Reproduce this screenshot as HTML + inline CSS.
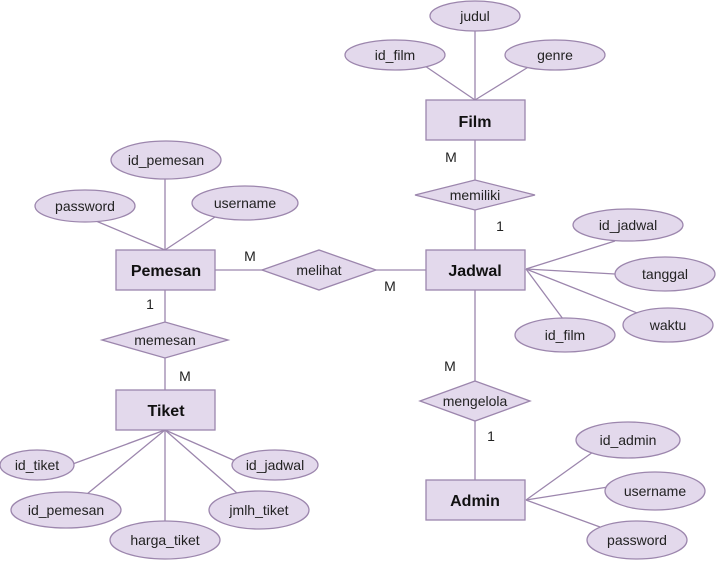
<!DOCTYPE html>
<html><head><style>html,body{margin:0;padding:0;background:#fff}svg{display:block}</style></head>
<body>
<svg width="716" height="561" viewBox="0 0 716 561" xmlns="http://www.w3.org/2000/svg" font-family="Liberation Sans, Arial, sans-serif">
<g stroke="#9c86ad" stroke-width="1.3" fill="none">
<!-- Film -->
<line x1="475" y1="31" x2="475" y2="100"/>
<line x1="425" y1="66" x2="475" y2="100"/>
<line x1="530" y1="66" x2="475" y2="100"/>
<line x1="475" y1="140" x2="475" y2="250"/>
<!-- Jadwal -->
<line x1="526" y1="269" x2="615" y2="241"/>
<line x1="526" y1="269" x2="615" y2="274"/>
<line x1="526" y1="269" x2="637" y2="313"/>
<line x1="526" y1="269" x2="563" y2="319"/>
<line x1="475" y1="290" x2="475" y2="480"/>
<!-- melihat -->
<line x1="215" y1="270" x2="426" y2="270"/>
<!-- Pemesan -->
<line x1="165" y1="179" x2="165" y2="250"/>
<line x1="96" y1="221" x2="165" y2="250"/>
<line x1="215" y1="217" x2="165" y2="250"/>
<line x1="165" y1="290" x2="165" y2="390"/>
<!-- Tiket -->
<line x1="165" y1="430" x2="70" y2="465"/>
<line x1="165" y1="430" x2="240" y2="463"/>
<line x1="165" y1="430" x2="87" y2="494"/>
<line x1="165" y1="430" x2="238" y2="494"/>
<line x1="165" y1="430" x2="165" y2="522"/>
<!-- Admin -->
<line x1="526" y1="500" x2="593" y2="452"/>
<line x1="526" y1="500" x2="608" y2="487"/>
<line x1="526" y1="500" x2="600" y2="527"/>
</g>
<g fill="#e3d9ec" stroke="#9c86ad" stroke-width="1.3">
<rect x="426" y="100" width="99" height="40"/>
<rect x="426" y="250" width="99" height="40"/>
<rect x="116" y="250" width="99" height="40"/>
<rect x="116" y="390" width="99" height="40"/>
<rect x="426" y="480" width="99" height="40"/>
<polygon points="415,195 475,180 535,195 475,210"/>
<polygon points="262,270 319,250 376,270 319,290"/>
<polygon points="102,340 165,322 228,340 165,358"/>
<polygon points="420,401 475,381 530,401 475,421"/>
<ellipse cx="475" cy="16" rx="45" ry="15"/>
<ellipse cx="395" cy="55" rx="50" ry="15"/>
<ellipse cx="555" cy="55" rx="50" ry="15"/>
<ellipse cx="628" cy="225" rx="55" ry="16"/>
<ellipse cx="665" cy="274" rx="50" ry="17"/>
<ellipse cx="668" cy="325" rx="45" ry="17"/>
<ellipse cx="565" cy="335" rx="50" ry="17"/>
<ellipse cx="166" cy="160" rx="55" ry="19"/>
<ellipse cx="85" cy="206" rx="50" ry="16"/>
<ellipse cx="245" cy="203" rx="53" ry="17"/>
<ellipse cx="37" cy="465" rx="37" ry="15"/>
<ellipse cx="275" cy="465" rx="43" ry="15"/>
<ellipse cx="66" cy="510" rx="55" ry="18"/>
<ellipse cx="259" cy="510" rx="50" ry="19"/>
<ellipse cx="165" cy="540" rx="55" ry="19"/>
<ellipse cx="628" cy="440" rx="52" ry="18"/>
<ellipse cx="655" cy="491" rx="50" ry="19"/>
<ellipse cx="637" cy="540" rx="50" ry="19"/>
</g>
<g fill="#111" font-size="16" font-weight="bold" text-anchor="middle">
<text x="475" y="127">Film</text>
<text x="475" y="276">Jadwal</text>
<text x="166" y="276">Pemesan</text>
<text x="166" y="416">Tiket</text>
<text x="475" y="506">Admin</text>
</g>
<g fill="#222" font-size="14" text-anchor="middle">
<text x="475" y="200">memiliki</text>
<text x="319" y="275">melihat</text>
<text x="165" y="345">memesan</text>
<text x="475" y="406">mengelola</text>
<text x="475" y="21">judul</text>
<text x="395" y="60">id_film</text>
<text x="555" y="60">genre</text>
<text x="628" y="230">id_jadwal</text>
<text x="665" y="279">tanggal</text>
<text x="668" y="330">waktu</text>
<text x="565" y="340">id_film</text>
<text x="166" y="165">id_pemesan</text>
<text x="85" y="211">password</text>
<text x="245" y="208">username</text>
<text x="37" y="470">id_tiket</text>
<text x="275" y="470">id_jadwal</text>
<text x="66" y="515">id_pemesan</text>
<text x="259" y="515">jmlh_tiket</text>
<text x="165" y="545">harga_tiket</text>
<text x="628" y="445">id_admin</text>
<text x="655" y="496">username</text>
<text x="637" y="545">password</text>
<text x="451" y="162">M</text>
<text x="500" y="231">1</text>
<text x="250" y="261">M</text>
<text x="390" y="291">M</text>
<text x="150" y="309">1</text>
<text x="185" y="381">M</text>
<text x="450" y="371">M</text>
<text x="491" y="441">1</text>
</g>
</svg>
</body></html>
